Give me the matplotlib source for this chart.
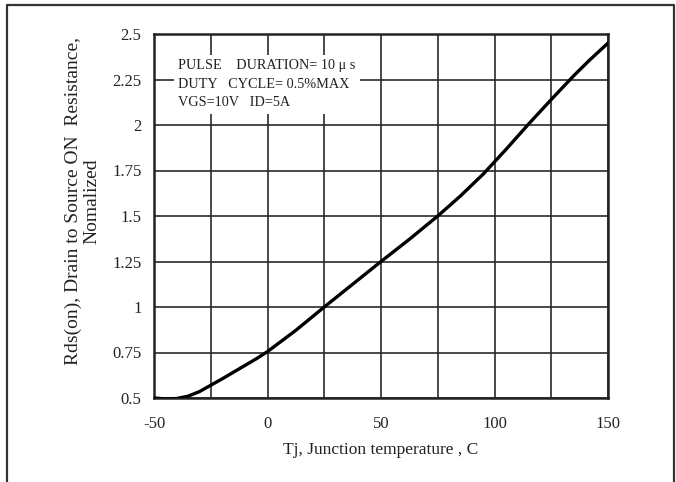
import matplotlib
matplotlib.use("Agg")
import matplotlib.pyplot as plt
from matplotlib.lines import Line2D
import numpy as np

# values
temp = [-50, -45, -40, -35, -30, -25, -20, -12.5, -5, 0, 12.5, 25, 37.5, 50, 62.5, 75, 85, 95, 105, 115, 125, 135, 142, 150]
rds = [0.50, 0.495, 0.497, 0.51, 0.535, 0.57, 0.605, 0.66, 0.715, 0.755, 0.872, 1.0, 1.125, 1.25, 1.372, 1.5, 1.61, 1.73, 1.865, 2.005, 2.14, 2.272, 2.358, 2.45]

xticks = [-50, 0, 50, 100, 150]
yticks = [0.5, 0.75, 1, 1.25, 1.5, 1.75, 2, 2.25, 2.5]
ytick_labels = ["0.5", "0.75", "1", "1.25", "1.5", "1.75", "2", "2.25", "2.5"]

plt.rcParams['font.family'] = ['Liberation Serif', 'DejaVu Serif']
plt.rcParams['axes.unicode_minus'] = False

fig = plt.figure(figsize=(6.76, 4.82), dpi=100)
ax = fig.add_axes([154/676, 1-398/482, 454/676, 364/482])

ax.plot(temp, rds, color='black', lw=2.4, solid_capstyle='round', solid_joinstyle='round', zorder=3)

ax.set_xlim(-50, 150)
ax.set_ylim(0.5, 2.5)
ax.set_xticks(np.arange(-50, 151, 25), minor=True)
ax.set_xticks(xticks)
ax.set_yticks(yticks)
ax.set_yticklabels(ytick_labels)
ax.grid(True, which='both', color='#2a2a2a', lw=1.2)
ax.tick_params(which='both', length=0, labelsize=12, colors='#222222')
ax.tick_params(axis='x', pad=13)
ax.tick_params(axis='y', pad=9)
for s in ax.spines.values():
    s.set_linewidth(1.8)
    s.set_color('#222222')

ax.set_xlabel("Tj, Junction temperature , C", fontsize=12.5, color='#222222')
ax.xaxis.set_label_coords(0.5, -0.122)
ax.set_ylabel("Rds(on), Drain to Source ON  Resistance,\nNomalized", fontsize=14,
              color='#222222', linespacing=1.08)
ax.yaxis.set_label_coords(-0.119, 0.54)

ax.text(0.053, 0.93,
        "PULSE    DURATION= 10 \u03bc s\nDUTY   CYCLE= 0.5%MAX\nVGS=10V   ID=5A",
        transform=ax.transAxes, fontsize=10.3, va='top', ha='left', color='#222222',
        linespacing=1.55, zorder=4,
        bbox=dict(boxstyle='square,pad=0.3', fc='white', ec='none'))

# outer frame (left, top, right)
fx = [7/676, 7/676, 674/676, 674/676]
fy = [0, 1-5/482, 1-5/482, 0]
fig.add_artist(Line2D(fx, fy, transform=fig.transFigure, color='#333333', lw=1.6))

fig.savefig("out.png", dpi=100)
